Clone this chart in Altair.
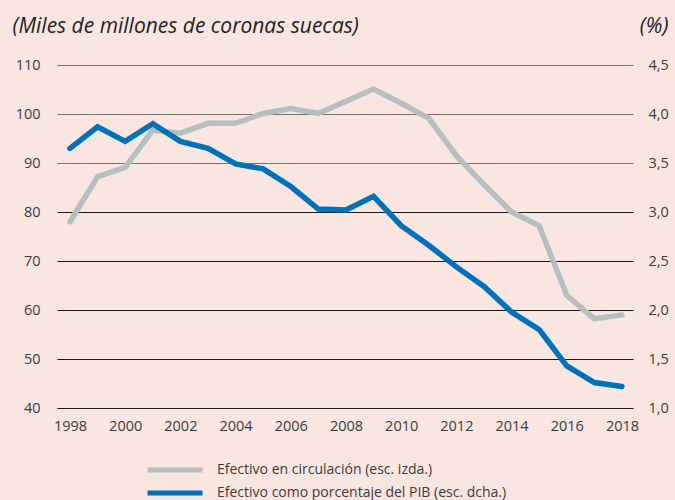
import altair as alt
import pandas as pd

years = list(range(1998, 2019))
efectivo = [78, 87.2, 89.1, 96.7, 96.1, 98.1, 98.1, 100.1, 101.1, 100.1, 102.6, 105.1,
            102.2, 99.1, 91.5, 85.6, 80.0, 77.2, 63.0, 58.2, 59.0]
porcentaje = [3.65, 3.87, 3.72, 3.90, 3.72, 3.65, 3.49, 3.44, 3.26, 3.03, 3.02, 3.16,
              2.86, 2.66, 2.44, 2.24, 1.98, 1.80, 1.43, 1.26, 1.22]
serie_izq = "Efectivo en circulación (esc. izda.)"
serie_der = "Efectivo como porcentaje del PIB (esc. dcha.)"
left_ticks = [40, 50, 60, 70, 80, 90, 100, 110]
right_ticks = [1.0, 1.5, 2.0, 2.5, 3.0, 3.5, 4.0, 4.5]
year_ticks = list(range(1998, 2019, 2))

df_l = pd.DataFrame({"year": years, "val": efectivo, "serie": serie_izq})
df_r = pd.DataFrame({"year": years, "val": porcentaje, "serie": serie_der})

FONT = "Open Sans"
TXT = "#3a3a3a"

xscale = alt.Scale(domain=[1997.53, 2018.40], nice=False, zero=False)
xaxis = alt.Axis(values=year_ticks, format="d", domain=False, ticks=False, grid=False,
                 labelFontSize=14.5, labelColor=TXT, labelFont=FONT, labelPadding=11,
                 title=None)

color = alt.Color("serie:N",
                  scale=alt.Scale(domain=[serie_izq, serie_der], range=["#b5bfc2", "#0072bb"]),
                  legend=alt.Legend(orient="none", legendX=110, legendY=397, title=None,
                                    symbolType="M-5,0L5,0", symbolSize=121,
                                    symbolStrokeWidth=5, labelFontSize=14, labelFont=FONT,
                                    labelColor=TXT, rowPadding=3, labelOffset=34,
                                    labelLimit=0))

left = alt.Chart(df_l).mark_line(strokeWidth=5.5, strokeCap="round", strokeJoin="miter").encode(
    x=alt.X("year:Q", scale=xscale, axis=xaxis),
    y=alt.Y("val:Q", scale=alt.Scale(domain=[40, 110], nice=False, zero=False),
            axis=alt.Axis(values=left_ticks, domain=False, ticks=False, grid=True,
                          gridColor={"condition": {"test": "datum.value >= 90", "value": "#7a706c"},
                                     "value": "#1e1a19"},
                          gridWidth=1.2, labelFontSize=14.5, labelColor=TXT, labelFont=FONT,
                          labelPadding=17,
                          title="(Miles de millones de coronas suecas)", titleAngle=0,
                          titleAlign="left", titleBaseline="alphabetic", titleX=-45, titleY=-33,
                          titleFont=FONT, titleFontSize=21, titleFontStyle="italic",
                          titleFontWeight="normal", titleColor="#222")),
    color=color,
)

right = alt.Chart(df_r).mark_line(strokeWidth=5.5, strokeCap="round", strokeJoin="miter").encode(
    x=alt.X("year:Q", scale=xscale, axis=xaxis),
    y=alt.Y("val:Q", scale=alt.Scale(domain=[1.0, 4.5], nice=False, zero=False),
            axis=alt.Axis(orient="right", values=right_ticks, domain=False, ticks=False, grid=False,
                          labelExpr="replace(format(datum.value, '.1f'), '.', ',')",
                          labelFontSize=14.5, labelColor=TXT, labelFont=FONT, labelPadding=15,
                          title="(%)", titleAngle=0, titleAlign="right",
                          titleBaseline="alphabetic", titleX=35, titleY=-33,
                          titleFont=FONT, titleFontSize=21, titleFontStyle="italic",
                          titleFontWeight="normal", titleColor="#222")),
    color=color,
)

chart = alt.layer(left, right).resolve_scale(y="independent").properties(
    width=576, height=343,
    autosize=alt.AutoSizeParams(type="none"),
    padding={"left": 57, "top": 65, "right": 42, "bottom": 92},
    background="#fae6e0",
).configure_view(stroke=None)

chart.save("out.html", embed_options={"renderer": "svg", "actions": False})
